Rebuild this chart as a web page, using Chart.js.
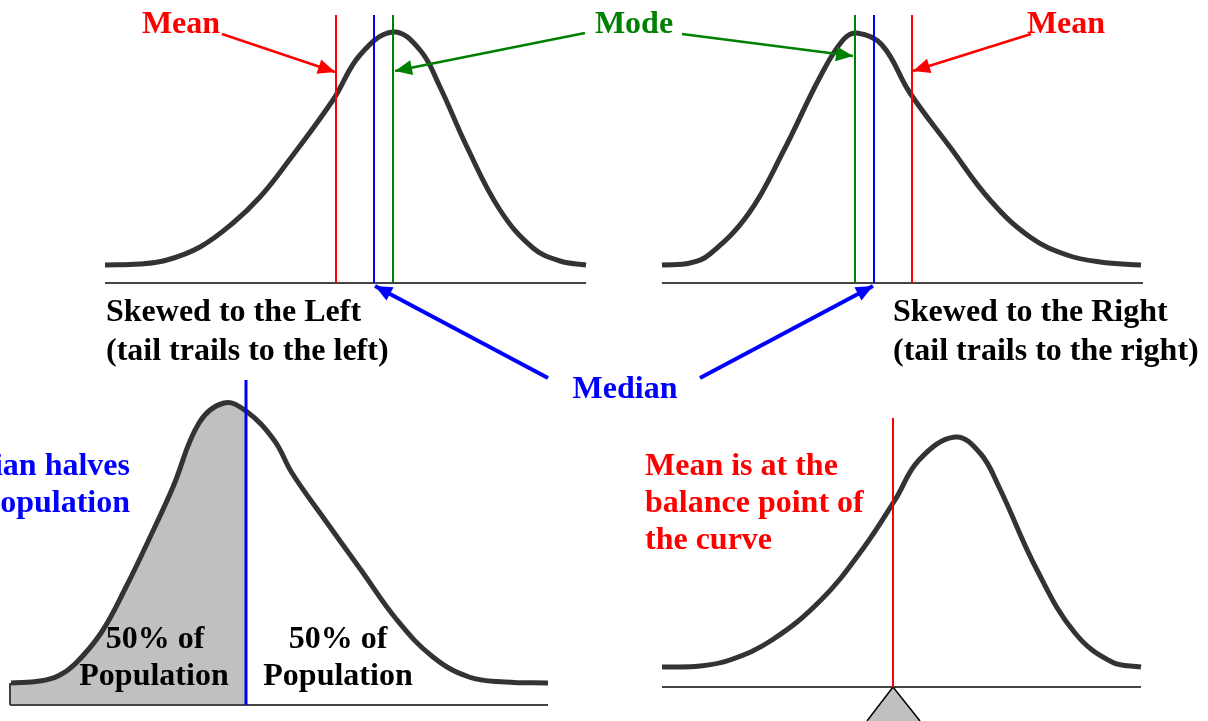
<!DOCTYPE html>
<html>
<head>
<meta charset="utf-8">
<script src="https://cdn.jsdelivr.net/npm/chart.js@4.4.1/dist/chart.umd.min.js"></script>
<style>
  html, body { margin: 0; padding: 0; background: #fff; }
  #wrap { width: 1208px; height: 721px; }
</style>
</head>
<body>
<div id="wrap"><canvas id="skew" width="1208" height="721"></canvas></div>
<script>
// picture space: x 0..1208, y 0..721 (top to bottom)
const RED = '#ff0000', BLUE = '#0000ff', GREEN = '#008000', CURVE = '#333333', AXIS = '#444444';

// the four curves
const leftSkewX = [105, 140, 167, 200, 233, 260, 287, 333, 360, 393, 420, 440, 467, 500, 533, 560, 586];
const leftSkewY = [265, 264, 260, 247, 223, 197, 163, 100, 55, 32, 50, 87, 147, 210, 248, 261, 265];

const rightSkewX = [662, 690, 710, 749, 784, 820, 843, 857, 882, 910, 950, 990, 1030, 1067, 1100, 1141];
const rightSkewY = [265, 263, 254, 213, 150, 77, 40, 33, 45, 93, 147, 200, 237, 255, 262, 265];

const halvesX = [11, 40, 58, 75, 101, 126, 152, 173, 199, 224, 246, 274, 292, 325, 361, 397, 433, 469, 505, 548];
const halvesY = [683, 681, 676, 664, 633, 587, 533, 487, 423, 403, 411, 440, 473, 520, 570, 620, 657, 677, 682, 683];
const shadedCount = 11; // points up to the median line

const balanceX = [662, 700, 730, 772, 821, 862, 895, 919, 955, 980, 999, 1037, 1075, 1112, 1141];
const balanceY = [667, 666, 660, 640, 600, 550, 500, 460, 437, 453, 487, 570, 633, 662, 667];

// baselines
const baseX0 = [105, 662, 10, 662];
const baseX1 = [586, 1143, 548, 1141];
const baseY = [283, 283, 705, 687];

// vertical mean / median / mode lines
const vlineX = [336, 374, 393, 855, 874, 912, 246, 893];
const vlineTop = [15, 15, 15, 15, 15, 15, 380, 418];
const vlineBottom = [283, 283, 283, 283, 283, 283, 705, 687];
const vlineColor = [RED, BLUE, GREEN, GREEN, BLUE, RED, BLUE, RED];
const vlineWidth = [2, 2, 2, 2, 2, 2, 3, 2];

// arrows
const arrowX0 = [222, 585, 682, 1031, 548, 700];
const arrowY0 = [34, 33, 34, 34, 378, 378];
const arrowX1 = [335, 395, 853, 913, 375, 873];
const arrowY1 = [72, 71, 56, 71, 286, 286];
const arrowColor = [RED, GREEN, GREEN, RED, BLUE, BLUE];
const arrowWidth = [2.5, 2.5, 2.5, 2.5, 4, 4];

// fulcrum under the balance curve
const fulcrumX = [867, 893, 920];
const fulcrumY = [721, 687, 721];

// labels
const labelText = ['Mean', 'Mode', 'Mean',
  'Skewed to the Left', '(tail trails to the left)',
  'Skewed to the Right', '(tail trails to the right)',
  'Median', 'Median halves', 'the population',
  '50% of', 'Population', '50% of', 'Population',
  'Mean is at the', 'balance point of', 'the curve'];
const labelX = [181, 634, 1066, 106, 106, 893, 893, 625, 130, 130, 155, 154, 338, 338, 645, 645, 645];
const labelY = [25, 25, 25, 313, 352, 313, 352, 390, 467, 504, 640, 677, 640, 677, 467, 504, 541];
const labelAlign = ['center', 'center', 'center', 'left', 'left', 'left', 'left', 'center', 'right', 'right',
  'center', 'center', 'center', 'center', 'left', 'left', 'left'];
const labelColor = [RED, GREEN, RED, '#000', '#000', '#000', '#000', BLUE, BLUE, BLUE,
  '#000', '#000', '#000', '#000', RED, RED, RED];

function pts(xs, ys) {
    return xs.map((x, i) => ({ x: x, y: ys[i] }));
}

const datasets = [];

// shaded half
datasets.push({
    data: pts(halvesX.slice(0, shadedCount), halvesY.slice(0, shadedCount)),
    borderWidth: 1,
    borderColor: '#000',
    backgroundColor: '#c0c0c0',
    fill: { value: 705 },
    tension: 0.4,
    order: 10
});
// left edge of the shaded area
datasets.push({
    data: [{ x: 10, y: 683 }, { x: 10, y: 705 }],
    borderColor: '#000', borderWidth: 1.5, order: 9
});

baseX0.forEach((x0, i) => {
    datasets.push({
        data: [{ x: x0, y: baseY[i] }, { x: baseX1[i], y: baseY[i] }],
        borderColor: AXIS, borderWidth: 2, order: 6
    });
});

datasets.push({
    data: pts(fulcrumX, fulcrumY),
    borderColor: '#000', borderWidth: 1.5,
    backgroundColor: '#c0c0c0', fill: { value: 721 },
    tension: 0, order: 5
});

[[leftSkewX, leftSkewY], [rightSkewX, rightSkewY], [halvesX, halvesY], [balanceX, balanceY]].forEach(c => {
    datasets.push({
        data: pts(c[0], c[1]),
        borderColor: CURVE, borderWidth: 5,
        tension: 0.4, order: 3
    });
});

vlineX.forEach((x, i) => {
    datasets.push({
        data: [{ x: x, y: vlineTop[i] }, { x: x, y: vlineBottom[i] }],
        borderColor: vlineColor[i], borderWidth: vlineWidth[i], order: 2
    });
});

arrowX0.forEach((x0, i) => {
    datasets.push({
        data: [{ x: x0, y: arrowY0[i] }, { x: arrowX1[i], y: arrowY1[i] }],
        borderColor: arrowColor[i], borderWidth: arrowWidth[i], order: 1,
        arrow: true
    });
});

// arrow heads at the last point of each arrow dataset
const arrowHeads = {
    id: 'arrowHeads',
    afterDatasetsDraw(chart) {
        const ctx = chart.ctx;
        chart.data.datasets.forEach((ds, i) => {
            if (!ds.arrow) return;
            const pts = chart.getDatasetMeta(i).data;
            const a = pts[0], b = pts[1];
            const ang = Math.atan2(b.y - a.y, b.x - a.x);
            const len = 17, half = 7.5;
            ctx.save();
            ctx.translate(b.x, b.y);
            ctx.rotate(ang);
            ctx.beginPath();
            ctx.moveTo(0, 0);
            ctx.lineTo(-len, -half);
            ctx.lineTo(-len, half);
            ctx.closePath();
            ctx.fillStyle = ds.borderColor;
            ctx.fill();
            ctx.restore();
        });
    }
};

const textLabels = {
    id: 'textLabels',
    afterDatasetsDraw(chart) {
        const ctx = chart.ctx;
        const xs = chart.scales.x, ys = chart.scales.y;
        ctx.save();
        ctx.font = 'bold 32px "Liberation Serif", "Times New Roman", serif';
        ctx.textBaseline = 'middle';
        labelText.forEach((t, i) => {
            ctx.fillStyle = labelColor[i];
            ctx.textAlign = labelAlign[i];
            ctx.fillText(t, xs.getPixelForValue(labelX[i]), ys.getPixelForValue(labelY[i]));
        });
        ctx.restore();
    }
};

new Chart(document.getElementById('skew'), {
    type: 'line',
    data: { datasets: datasets },
    options: {
        responsive: false,
        animation: false,
        devicePixelRatio: 1,
        layout: { padding: 0 },
        elements: { point: { radius: 0, hoverRadius: 0 }, line: { borderCapStyle: 'butt' } },
        plugins: { legend: { display: false }, tooltip: { enabled: false } },
        events: [],
        scales: {
            x: { type: 'linear', min: 0, max: 1208, display: false },
            y: { type: 'linear', min: 0, max: 721, reverse: true, display: false }
        }
    },
    plugins: [arrowHeads, textLabels]
});
</script>
</body>
</html>
